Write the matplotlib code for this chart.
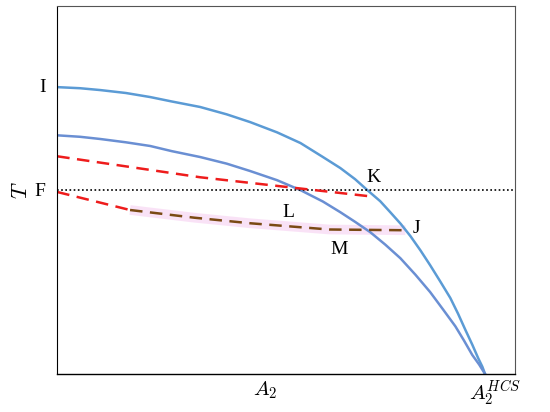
import matplotlib
matplotlib.use("Agg")
import matplotlib.pyplot as plt

plt.rcParams['mathtext.fontset'] = 'cm'
plt.rcParams['font.family'] = ['Liberation Serif', 'DejaVu Serif']

# outer phase boundary (through I, K, J)
outer_x = [0, 5, 9.4, 15, 20.3, 25, 31.2, 37, 42.1, 48, 53.1, 58, 61.8, 65, 67.7, 70.5, 72.7,
           75, 77.1, 79.3, 81.4, 83.6, 85.8, 87.5, 89.1, 90.6, 91.9, 92.8, 93.4]
outer_y = [78.0, 77.7, 77.2, 76.4, 75.3, 74.1, 72.6, 70.6, 68.5, 65.7, 62.8, 59.0, 56.0, 53.0, 50.0, 47.0, 44.0,
           40.8, 37.5, 33.6, 29.6, 25.2, 20.7, 16.4, 12.0, 8.0, 4.3, 2.0, 0]
# inner boundary (through L, M)
inner_x = [0, 5, 9.4, 15, 20.3, 25, 31.2, 37, 42.1, 48, 53.1, 58, 61.8, 65, 68.3, 71.6, 74.9,
           78.2, 81.4, 84.2, 86.9, 88.8, 90.6, 92.1, 93.4]
inner_y = [64.9, 64.5, 63.9, 63.0, 62.0, 60.6, 59.0, 57.2, 55.2, 52.7, 50.0, 46.9, 44.0, 41.4, 38.6, 35.2, 31.5,
           27.0, 22.3, 17.6, 13.0, 9.1, 5.2, 2.6, 0]
# dashed paths
upper_x = [0, 31.2, 67.7]
upper_y = [59.2, 53.5, 48.4]
red_low_x = [0, 15.9]
red_low_y = [49.5, 44.6]
brown_x = [15.9, 30, 42.1, 59.4, 76.0]
brown_y = [44.6, 42.5, 41.0, 39.3, 39.1]
F_level = 50.0

fig = plt.figure(figsize=(5.5, 4.12), dpi=100)
ax = fig.add_axes([0.104, 0.092, 0.833, 0.893])
ax.set_xlim(0, 100)
ax.set_ylim(0, 100)

ax.plot(brown_x, brown_y, color='#f5c6ef', lw=7, alpha=0.5, solid_capstyle='butt')
ax.plot(outer_x, outer_y, color='#5b9bd5', lw=1.8)
ax.plot(inner_x, inner_y, color='#6a8fd3', lw=1.8)
ax.axhline(F_level, color='black', ls=(0, (1, 1.5)), lw=1.2)
ax.plot(upper_x, upper_y, color='#ee1c1c', ls=(0, (5, 3)), lw=1.8)
ax.plot(red_low_x, red_low_y, color='#ee1c1c', ls=(0, (5, 3)), lw=1.8)
ax.plot(brown_x, brown_y, color='#7a4a14', ls=(0, (5, 3)), lw=1.8)

for s in ['top', 'right']:
    ax.spines[s].set_color('#555555')
    ax.spines[s].set_linewidth(0.8)
ax.spines['left'].set_linestyle((0, (1, 1)))
ax.spines['bottom'].set_linewidth(1.0)
ax.set_xticks([])
ax.set_yticks([])

fs = 14
ax.text(-2.5, 78.0, 'I', ha='right', va='center', fontsize=fs)
ax.text(-2.5, 49.5, 'F', ha='right', va='center', fontsize=fs)
ax.set_ylabel('$T$', fontsize=16, labelpad=18)
ax.text(67.5, 53.5, 'K', ha='left', va='center', fontsize=fs)
ax.text(50.5, 44.0, 'L', ha='center', va='center', fontsize=fs)
ax.text(61.5, 34.0, 'M', ha='center', va='center', fontsize=fs)
ax.text(77.5, 39.5, 'J', ha='left', va='center', fontsize=fs)
ax.text(45.4, -1.5, '$A_2$', ha='center', va='top', fontsize=fs + 1)
ax.text(95.5, -1.0, '$A_2^{HCS}$', ha='center', va='top', fontsize=fs + 1)

fig.savefig('out.png', dpi=100)
